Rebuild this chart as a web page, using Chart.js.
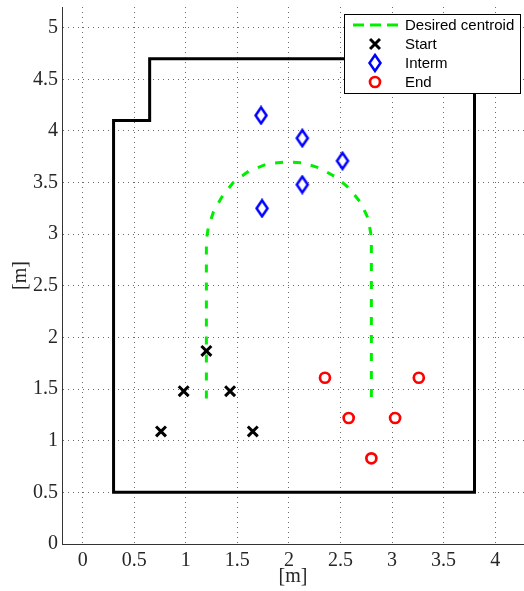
<!DOCTYPE html>
<html>
<head>
    <meta charset="utf-8">
    <title>Centroid path</title>
    <script src="https://cdn.jsdelivr.net/npm/chart.js@4.4.0/dist/chart.umd.min.js"></script>
    <style>
        body {
            margin: 0;
            background: #fff;
            overflow: hidden;
        }
    </style>
</head>
<body>
    <canvas id="c1" width="524" height="591"></canvas>
    <script>
        // tick values
        var xTicks = [0, 0.5, 1, 1.5, 2, 2.5, 3, 3.5, 4];
        var yTicks = [0, 0.5, 1, 1.5, 2, 2.5, 3, 3.5, 4, 4.5, 5];

        // room outline
        var wallX = [0.3, 3.8, 3.8, 0.65, 0.65, 0.3, 0.3];
        var wallY = [0.5, 0.5, 4.7, 4.7, 4.1, 4.1, 0.5];

        // desired centroid path
        var centroidX = [1.2, 1.2, 1.22, 1.27, 1.35, 1.46, 1.61, 1.79, 1.97, 2.14, 2.3, 2.46, 2.59, 2.7, 2.77, 2.8, 2.8];
        var centroidY = [1.41, 2.95, 3.07, 3.22, 3.36, 3.5, 3.61, 3.68, 3.7, 3.69, 3.64, 3.55, 3.44, 3.3, 3.15, 2.97, 1.34];

        var startX = [0.76, 0.98, 1.2, 1.43, 1.65];
        var startY = [1.09, 1.48, 1.87, 1.48, 1.09];

        var intermX = [1.73, 2.13, 2.52, 2.13, 1.74];
        var intermY = [4.15, 3.93, 3.71, 3.48, 3.25];

        var endX = [2.35, 3.26, 2.58, 3.03, 2.8];
        var endY = [1.61, 1.61, 1.22, 1.22, 0.83];

        var green = "#00ee00";
        var tickColor = "#262626";
        var serif = "'Liberation Serif', 'Times New Roman', serif";

        function pts(xs, ys) {
            return xs.map(function(x, i) { return { x: x, y: ys[i] }; });
        }

        // tall diamond marker
        function diamond() {
            var c = document.createElement("canvas");
            c.width = 16;
            c.height = 20;
            var g = c.getContext("2d");
            g.strokeStyle = "#0000ff";
            g.fillStyle = "#fff";
            g.lineWidth = 2.5;
            g.beginPath();
            g.moveTo(8, 2);
            g.lineTo(13.5, 10);
            g.lineTo(8, 18);
            g.lineTo(2.5, 10);
            g.closePath();
            g.fill();
            g.stroke();
            return c;
        }
        var diamondImg = diamond();

        // legend box drawn inside the plot, top right
        var boxLegend = {
            id: "boxLegend",
            afterDraw: function(chart) {
                var ctx = chart.ctx;
                var items = chart.data.datasets.filter(function(d) { return d.label; });
                var x0 = 344, y0 = 14, w = 176, rowH = 19;
                var h = items.length * rowH + 3;
                ctx.save();
                ctx.fillStyle = "#fff";
                ctx.fillRect(x0, y0, w, h);
                ctx.strokeStyle = "#000";
                ctx.lineWidth = 1;
                ctx.strokeRect(x0 + 0.5, y0 + 0.5, w, h);
                items.forEach(function(d, i) {
                    var cy = y0 + 11 + i * rowH;
                    var cx = x0 + 31;
                    ctx.save();
                    if (d.showLine) {
                        ctx.strokeStyle = d.borderColor;
                        ctx.lineWidth = d.borderWidth;
                        ctx.setLineDash([11, 6]);
                        ctx.beginPath();
                        ctx.moveTo(x0 + 9, cy);
                        ctx.lineTo(x0 + 55, cy);
                        ctx.stroke();
                    } else {
                        ctx.strokeStyle = d.borderColor;
                        ctx.fillStyle = d.backgroundColor;
                        ctx.lineWidth = d.borderWidth;
                        Chart.helpers.drawPoint(ctx, {
                            pointStyle: d.pointStyle,
                            radius: d.pointRadius,
                            borderWidth: d.borderWidth,
                            rotation: 0
                        }, cx, cy);
                    }
                    ctx.restore();
                    ctx.fillStyle = "#000";
                    ctx.font = "15px 'Liberation Sans', Arial, sans-serif";
                    ctx.textBaseline = "middle";
                    ctx.fillText(d.label, x0 + 61, cy + 1);
                });
                ctx.restore();
            }
        };

        function axis(min, max, tickList, isX) {
            return {
                type: "linear",
                min: min,
                max: max,
                afterBuildTicks: function(s) {
                    s.ticks = tickList.map(function(v) { return { value: v }; });
                },
                afterFit: function(s) {
                    if (isX) s.height = 47; else s.width = 62;
                    // labels never sit on the plot edges, so no extra room is needed
                    s.paddingTop = 0;
                    s.paddingBottom = 0;
                    s.paddingLeft = 0;
                    s.paddingRight = 0;
                },
                grid: { color: "#6a6a6a", lineWidth: 1, drawTicks: false },
                border: { display: true, color: "#333", width: 1, dash: [1, 4] },
                ticks: {
                    padding: isX ? 5 : 4,
                    autoSkip: false,
                    maxRotation: 0,
                    color: tickColor,
                    font: { family: serif, size: 20 },
                    callback: function(v) { return String(v); }
                },
                title: {
                    display: true,
                    text: "[m]",
                    color: tickColor,
                    font: { family: serif, size: 20 },
                    padding: isX ? { top: 0, bottom: 2 } : { top: 9, bottom: 0 }
                }
            };
        }

        var chart = new Chart(document.getElementById("c1"), {
            type: "scatter",
            data: {
                datasets: [{
                    data: pts(wallX, wallY),
                    showLine: true,
                    borderColor: "#000",
                    borderWidth: 3,
                    borderCapStyle: "square",
                    borderJoinStyle: "miter",
                    pointRadius: 0,
                    tension: 0,
                    order: 5
                }, {
                    label: "Desired centroid",
                    data: pts(centroidX, centroidY),
                    showLine: true,
                    borderColor: green,
                    borderWidth: 3,
                    borderDash: [8, 10],
                    pointRadius: 0,
                    tension: 0,
                    order: 4
                }, {
                    label: "Start",
                    data: pts(startX, startY),
                    pointStyle: "crossRot",
                    pointRadius: 7,
                    borderColor: "#000",
                    backgroundColor: "#000",
                    borderWidth: 3,
                    order: 3
                }, {
                    label: "Interm",
                    data: pts(intermX, intermY),
                    pointStyle: diamondImg,
                    pointRadius: 8,
                    borderColor: "#0000ff",
                    backgroundColor: "#fff",
                    borderWidth: 2.5,
                    order: 2
                }, {
                    label: "End",
                    data: pts(endX, endY),
                    pointStyle: "circle",
                    pointRadius: 5,
                    borderColor: "#ff0000",
                    backgroundColor: "#fff",
                    borderWidth: 2.7,
                    order: 1
                }]
            },
            options: {
                responsive: false,
                animation: false,
                layout: { autoPadding: false, padding: { top: 7, right: 0, left: 0, bottom: 0 } },
                plugins: {
                    legend: { display: false },
                    tooltip: { enabled: false }
                },
                scales: {
                    x: axis(-0.2, 4.28, xTicks, true),
                    y: axis(0, 5.2, yTicks, false)
                }
            },
            plugins: [boxLegend]
        });
    </script>
</body>
</html>
